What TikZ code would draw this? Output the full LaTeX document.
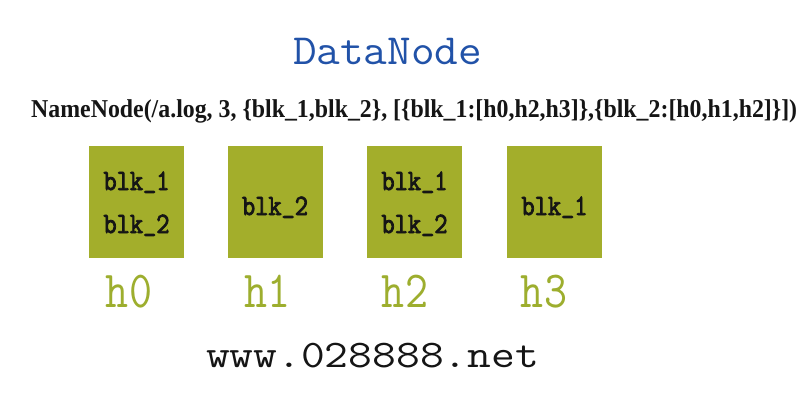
\documentclass[tikz,border=0pt]{standalone}
\usepackage{fontspec}
\usepackage{graphicx}
\newfontfamily\nnfont{Liberation Serif}
\newfontfamily\blkfont{Latin Modern Mono}[FakeBold=3]
\definecolor{boxolive}{HTML}{A3AE2B}
\definecolor{labolive}{HTML}{9DAE2E}
\definecolor{titleblue}{HTML}{2152A8}
\definecolor{inkblack}{HTML}{151515}
\newcommand\fitw[2]{\resizebox{#1pt}{\height}{#2}}
\newcommand\us{\raisebox{0.1em}{\_}}
\tikzset{
  blkbox/.style={fill=boxolive, draw=none, minimum width=95pt, minimum height=112pt, inner sep=0pt},
  txt/.style={inner sep=0pt, anchor=base},
  blktxt/.style={txt, text=inkblack, font=\blkfont\fontsize{29.5}{34}\selectfont},
  hlab/.style={txt, text=labolive, font=\ttfamily\fontsize{52}{60}\selectfont},
}
\begin{document}
\begin{tikzpicture}[x=1pt,y=-1pt]
\useasboundingbox (0,0) rectangle (800,400);
\fill[white] (0,0) rectangle (800,400);

\node[txt, text=titleblue, font=\ttfamily\fontsize{43}{50}\selectfont] (title) at (387.5,64) {\fitw{189}{DataNode}};

\node[txt, anchor=base west, text=inkblack, font=\nnfont\bfseries\fontsize{25.7}{30}\selectfont] (nn) at (31,117)
  {\fitw{766}{NameNode(/a.log, 3, \{blk\_1,blk\_2\}, [\{blk\_1:[h0,h2,h3]\},\{blk\_2:[h0,h1,h2]\}])}};

\node[blkbox] (b0) at (136.5,202) {};
\node[blkbox] (b1) at (275,202) {};
\node[blkbox] (b2) at (414.5,202) {};
\node[blkbox] (b3) at (554.5,202) {};

\node[blktxt] (t0a) at (136.5,190) {\fitw{66}{blk\us1}};
\node[blktxt] (t0b) at (136.5,233) {\fitw{66}{blk\us2}};
\node[blktxt] (t1a) at (275,215) {\fitw{66}{blk\us2}};
\node[blktxt] (t2a) at (414.5,190) {\fitw{66}{blk\us1}};
\node[blktxt] (t2b) at (414.5,233) {\fitw{66}{blk\us2}};
\node[blktxt] (t3a) at (554.5,215) {\fitw{66}{blk\us1}};

\node[hlab] (h0) at (129,307) {\scalebox{0.86}[1]{h0}};
\node[hlab] (h1) at (267.5,307) {\scalebox{0.86}[1]{h1}};
\node[hlab] (h2) at (405,307) {\scalebox{0.86}[1]{h2}};
\node[hlab] (h3) at (544,307) {\scalebox{0.86}[1]{h3}};

\node[txt, text=inkblack, font=\ttfamily\fontsize{39}{45}\selectfont] (www) at (372.5,367) {\fitw{333}{www.028888.net}};
\end{tikzpicture}
\end{document}
